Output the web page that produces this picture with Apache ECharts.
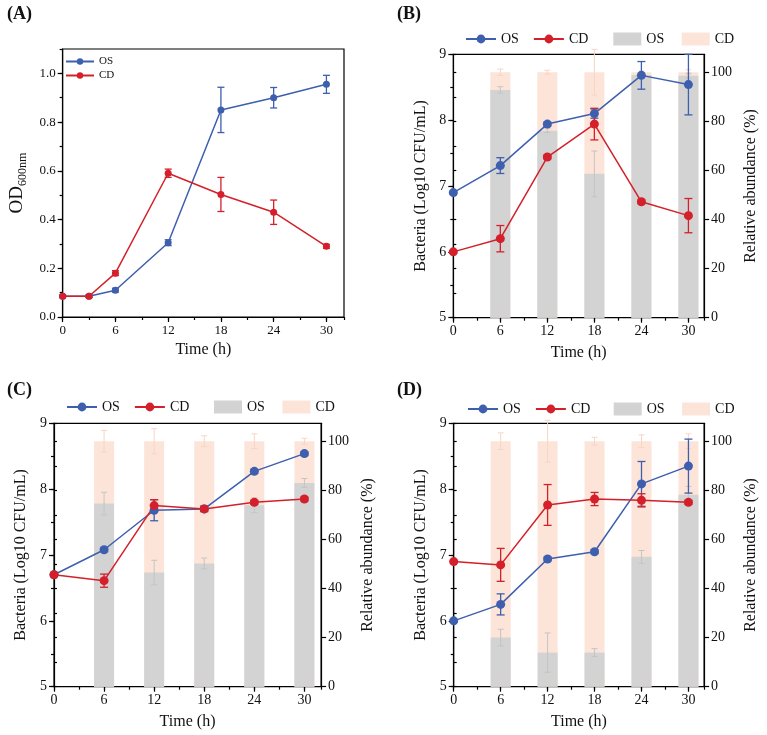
<!DOCTYPE html>
<html>
<head>
<meta charset="utf-8">
<script src="https://cdn.jsdelivr.net/npm/echarts@6/dist/echarts.min.js"></script>
<style>
  html, body { margin: 0; padding: 0; background: #fff; }
  .p { position: absolute; width: 384px; height: 368px; }
</style>
</head>
<body>
<div id="pA" class="p" style="left:0;top:0"></div>
<div id="pB" class="p" style="left:383px;top:0"></div>
<div id="pC" class="p" style="left:0;top:367px"></div>
<div id="pD" class="p" style="left:383px;top:367px"></div>
<script>
var FONT = '"Times New Roman", "Liberation Serif", serif';
var BLUE = '#3d5fae', RED = '#d3202a', GRAY = '#d3d3d3', PEACH = '#fde4d8';

// (A) OD600nm growth
var timeA = [0, 3, 6, 12, 18, 24, 30];
var odOS = [0.085, 0.085, 0.11, 0.305, 0.85, 0.90, 0.955];
var odOSErr = [0.005, 0.005, 0.008, 0.012, 0.093, 0.042, 0.037];
var odCD = [0.085, 0.085, 0.18, 0.59, 0.503, 0.43, 0.29];
var odCDErr = [0.005, 0.005, 0.01, 0.017, 0.07, 0.05, 0.008];

// (B)(C)(D) counts + relative abundance
var time = [0, 6, 12, 18, 24, 30];
var timeBar = [6, 12, 18, 24, 30];

var bOS = [6.9, 7.31, 7.94, 8.10, 8.68, 8.54];
var bOSErr = [0.02, 0.12, 0.03, 0.07, 0.21, 0.46];
var bCD = [6.0, 6.2, 7.44, 7.94, 6.76, 6.55];
var bCDErr = [0.02, 0.2, 0.03, 0.24, 0.03, 0.26];
var bAbOS = [92.8, 76.2, 58.6, 98.9, 98.6];
var bAbOSErr = [1.3, 0.8, 9.3, 0.5, 1.0];
var bAbCD = [7.2, 23.8, 41.4, 1.1, 1.4];
var bAbCDErr = [1.3, 0.8, 9.3, 0.5, 1.0];

var cOS = [6.70, 7.08, 7.68, 7.70, 8.27, 8.54];
var cOSErr = [0.02, 0.03, 0.16, 0.04, 0.03, 0.03];
var cCD = [6.70, 6.61, 7.75, 7.70, 7.80, 7.85];
var cCDErr = [0.02, 0.1, 0.09, 0.04, 0.03, 0.03];
var cAbOS = [74.6, 46.5, 50.2, 73.9, 83.0];
var cAbOSErr = [4.6, 5.0, 2.2, 3.0, 1.8];
var cAbCD = [25.4, 53.5, 49.8, 26.1, 17.0];
var cAbCDErr = [4.4, 5.1, 2.2, 3.0, 1.2];

var dOS = [6.0, 6.25, 6.94, 7.05, 8.08, 8.35];
var dOSErr = [0.02, 0.16, 0.03, 0.03, 0.34, 0.41];
var dCD = [6.90, 6.85, 7.76, 7.85, 7.83, 7.80];
var dCDErr = [0.02, 0.25, 0.31, 0.1, 0.1, 0.03];
var dAbOS = [20.0, 13.9, 13.9, 52.9, 78.2];
var dAbOSErr = [3.4, 8.0, 1.6, 2.6, 3.4];
var dAbCD = [80.0, 86.1, 86.1, 47.1, 21.8];
var dAbCDErr = [3.4, 8.5, 1.6, 2.6, 3.0];

function pts(xs, ys) {
    return xs.map(function (x, i) { return [x, ys[i]]; });
}
function errs(xs, ys, es) {
    return xs.map(function (x, i) { return [x, ys[i] - es[i], ys[i] + es[i]]; });
}
function stackTop(a, b) {
    return a.map(function (v, i) { return v + b[i]; });
}

// vertical error bar with caps, custom series
function errSeries(data, color, cap, yIdx, z, lw) {
    return {
        type: 'custom', yAxisIndex: yIdx || 0, z: z, silent: true,
        data: data,
        encode: { x: 0, y: [1, 2] },
        renderItem: function (params, api) {
            var x = api.value(0);
            var hi = api.coord([x, api.value(2)]);
            var lo = api.coord([x, api.value(1)]);
            var h = cap / 2;
            var st = { stroke: color, lineWidth: lw || 1.3 };
            return {
                type: 'group', children: [
                    { type: 'line', shape: { x1: hi[0], y1: hi[1], x2: lo[0], y2: lo[1] }, style: st },
                    { type: 'line', shape: { x1: hi[0] - h, y1: hi[1], x2: hi[0] + h, y2: hi[1] }, style: st },
                    { type: 'line', shape: { x1: lo[0] - h, y1: lo[1], x2: lo[0] + h, y2: lo[1] }, style: st }
                ]
            };
        }
    };
}

function valAxis(o, fs) {
    var a = {
        type: 'value', min: o.min, max: o.max, interval: o.interval,
        axisLine: { show: true, onZero: false, lineStyle: { color: '#000', width: 1.2 } },
        axisTick: { show: true, inside: false, length: 5, lineStyle: { color: '#000', width: 1.2 } },
        axisLabel: { show: true, color: '#111', fontFamily: FONT, fontSize: fs, margin: 7, showMaxLabel: !!o.maxLabel, formatter: o.fmt },
        splitLine: { show: false }
    };
    for (var k in o.extra || {}) a[k] = o.extra[k];
    return a;
}
// overlay axis that only draws the short minor ticks
function minorAxis(o) {
    return {
        type: 'value', min: o.min, max: o.max, interval: o.interval, position: o.position,
        axisLine: { show: false }, axisLabel: { show: false }, splitLine: { show: false },
        axisTick: { show: true, inside: false, length: 3, lineStyle: { color: '#000', width: 1.2 } }
    };
}

var nameStyle = { fontFamily: FONT, fontSize: 16, color: '#111' };

function titleOf(txt, left, top) {
    return { text: txt, left: left, top: top, textStyle: { fontFamily: FONT, fontSize: 18, fontWeight: 'bold', color: '#111' } };
}

// ---- (A)
var optA = {
    animation: false,
    title: titleOf('(A)', 2, 0),
    grid: { left: 54, top: 49, width: 290, height: 268, show: true, borderColor: '#000', borderWidth: 1.2 },
    legend: {
        orient: 'vertical', left: 60, top: 51, itemGap: 3, itemWidth: 28, itemHeight: 8,
        textStyle: { fontFamily: FONT, fontSize: 11, color: '#111' },
        data: ['OS', 'CD']
    },
    xAxis: [
        valAxis({ min: 0, max: 32, interval: 6, extra: { name: 'Time (h)', nameLocation: 'middle', nameGap: 25, nameTextStyle: nameStyle } }, 13),
        minorAxis({ min: 0, max: 32, interval: 3, position: 'bottom' })
    ],
    yAxis: [
        valAxis({
            min: 0, max: 1.1, interval: 0.2, fmt: function (v) { return v.toFixed(1); },
            extra: {
                name: '{a|OD}{b|600nm}', nameLocation: 'middle', nameGap: 30,
                nameTextStyle: { rich: {
                    a: { fontFamily: FONT, fontSize: 19, color: '#111' },
                    b: { fontFamily: FONT, fontSize: 12, color: '#111', verticalAlign: 'bottom', padding: [10, 0, 0, 0] }
                } }
            }
        }, 13),
        minorAxis({ min: 0, max: 1.1, interval: 0.1, position: 'left' })
    ],
    series: [
        errSeries(errs(timeA, odOS, odOSErr), BLUE, 7, 0, 3),
        errSeries(errs(timeA, odCD, odCDErr), RED, 7, 0, 3),
        { name: 'OS', type: 'line', data: pts(timeA, odOS), symbol: 'circle', symbolSize: 7, z: 4,
          itemStyle: { color: BLUE }, lineStyle: { color: BLUE, width: 1.5 } },
        { name: 'CD', type: 'line', data: pts(timeA, odCD), symbol: 'circle', symbolSize: 7, z: 4,
          itemStyle: { color: RED }, lineStyle: { color: RED, width: 1.5 } }
    ]
};

// ---- (B)(C)(D) share one layout
function panel(p) {
    var abMax = 107.3;
    var total = stackTop(p.abOS, p.abCD);
    return {
        animation: false,
        title: titleOf(p.title, p.titleLeft, p.titleTop),
        grid: { left: p.left, top: p.top, width: 270, height: 263.4, show: true, borderColor: '#000', borderWidth: 1.2 },
        legend: [
            { left: p.legLeft, top: p.legTop, itemGap: 14, itemWidth: 30, itemHeight: 11,
              textStyle: { fontFamily: FONT, fontSize: 14, color: '#111' }, data: ['OS', 'CD'] },
            { left: p.left + 155, top: p.legTop, itemGap: 14, itemWidth: 28, itemHeight: 13, icon: 'rect',
              textStyle: { fontFamily: FONT, fontSize: 14, color: '#111' }, data: ['OS ', 'CD '] }
        ],
        xAxis: [
            valAxis({ min: 0, max: 32, interval: 6, extra: { name: 'Time (h)', nameLocation: 'middle', nameGap: 27, nameTextStyle: nameStyle } }, 14),
            minorAxis({ min: 0, max: 32, interval: 3, position: 'bottom' })
        ],
        yAxis: [
            valAxis({ min: 5, max: 9, interval: 1, maxLabel: true, extra: { position: 'left', name: 'Bacteria (Log10 CFU/mL)', nameLocation: 'middle', nameGap: 25, nameTextStyle: nameStyle } }, 14),
            valAxis({ min: 0, max: abMax, interval: 20, extra: { position: 'right', name: 'Relative abundance (%)', nameLocation: 'middle', nameGap: 36, nameTextStyle: nameStyle } }, 14),
            minorAxis({ min: 5, max: 9, interval: 0.5, position: 'left' }),
            minorAxis({ min: 0, max: abMax, interval: 10, position: 'right' })
        ],
        series: [
            // CD share sits on top of OS: draw the full column in peach, OS over it
            { name: 'CD ', type: 'bar', yAxisIndex: 1, barWidth: 20, barGap: '-100%', z: 1,
              itemStyle: { color: PEACH }, data: pts(timeBar, total) },
            { name: 'OS ', type: 'bar', yAxisIndex: 1, barWidth: 20, barGap: '-100%', z: 1,
              itemStyle: { color: GRAY }, data: pts(timeBar, p.abOS) },
            errSeries(errs(timeBar, p.abOS, p.abOSErr), '#c4c4c4', 6, 1, 2, 1),
            errSeries(errs(timeBar, total, p.abCDErr), '#f7d5c4', 6, 1, 2, 1),
            errSeries(errs(time, p.os, p.osErr), BLUE, 8, 0, 3),
            errSeries(errs(time, p.cd, p.cdErr), RED, 8, 0, 3),
            { name: 'OS', type: 'line', data: pts(time, p.os), symbol: 'circle', symbolSize: 9, z: 4,
              itemStyle: { color: BLUE }, lineStyle: { color: BLUE, width: 1.5 } },
            { name: 'CD', type: 'line', data: pts(time, p.cd), symbol: 'circle', symbolSize: 9, z: 4,
              itemStyle: { color: RED }, lineStyle: { color: RED, width: 1.5 } }
        ]
    };
}

var optB = panel({ title: '(B)', titleLeft: 9, titleTop: 0, left: 70.3, top: 54.3, legLeft: 77, legTop: 27,
    os: bOS, osErr: bOSErr, cd: bCD, cdErr: bCDErr, abOS: bAbOS, abOSErr: bAbOSErr, abCD: bAbCD, abCDErr: bAbCDErr });
var optC = panel({ title: '(C)', titleLeft: 2, titleTop: 9, left: 54, top: 56.3, legLeft: 61, legTop: 28,
    os: cOS, osErr: cOSErr, cd: cCD, cdErr: cCDErr, abOS: cAbOS, abOSErr: cAbOSErr, abCD: cAbCD, abCDErr: cAbCDErr });
var optD = panel({ title: '(D)', titleLeft: 9, titleTop: 9, left: 70.7, top: 56.3, legLeft: 79, legTop: 30,
    os: dOS, osErr: dOSErr, cd: dCD, cdErr: dCDErr, abOS: dAbOS, abOSErr: dAbOSErr, abCD: dAbCD, abCDErr: dAbCDErr });

echarts.init(document.getElementById('pA')).setOption(optA);
echarts.init(document.getElementById('pB')).setOption(optB);
echarts.init(document.getElementById('pC')).setOption(optC);
echarts.init(document.getElementById('pD')).setOption(optD);
</script>
</body>
</html>
